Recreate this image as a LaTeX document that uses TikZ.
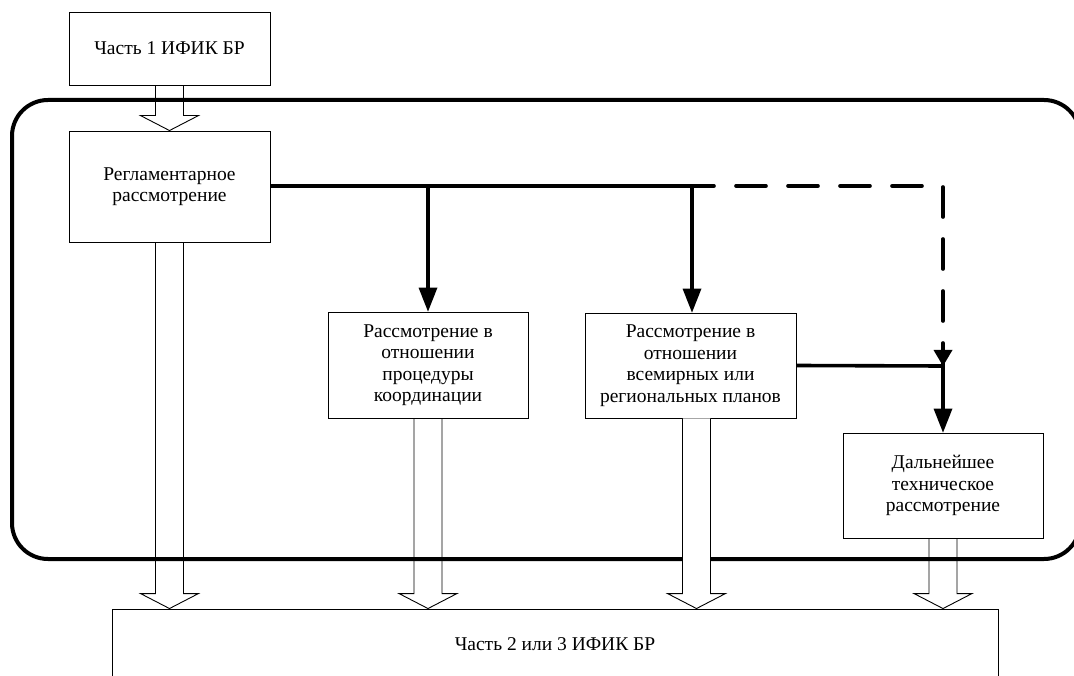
\documentclass[tikz,border=0pt]{standalone}
\usepackage{fontspec}
\setmainfont{Liberation Serif}
\usetikzlibrary{arrows.meta,calc}
\tikzset{
  box/.style={draw=black, line width=0.9pt, fill=white, align=center, inner sep=0pt,
    font=\fontsize{19.5}{21.5}\selectfont},
  thick line/.style={line width=3.6pt},
  flowarrow/.style={thick line, -{Triangle[length=24pt,width=19pt,line width=0pt]}},
  shortarrow/.style={thick line, -{Triangle[length=16pt,width=19pt,line width=0pt]}},
  dashline/.style={thick line, line cap=round, dash pattern=on 30pt off 22pt, dash phase=8pt},
  hollow/.style={draw=black, line width=0.9pt, line join=miter},
  frame/.style={line width=4pt, rounded corners=36pt}
}
\newcommand{\harrow}[3][]{%
  \draw[hollow,#1] let \p1=(#2), \p2=(#3) in
    (\x1-14pt,\y1) -- (\x1-14pt,\y2+15pt) -- (\x1-29pt,\y2+15pt) -- (\x1,\y2)
    -- (\x1+29pt,\y2+15pt) -- (\x1+14pt,\y2+15pt) -- (\x1+14pt,\y1);}
\begin{document}
\begin{tikzpicture}[x=1pt,y=-1pt]
\useasboundingbox (0,0) rectangle (1074,676);
\clip (0,0) rectangle (1074,676);
% frame
\draw[frame] (12,100) rectangle (1080,559);
% boxes
\node[box, minimum width=201pt, minimum height=73pt] (A) at (169.5,48.5) {Часть 1 ИФИК БР};
\node[box, minimum width=201pt, minimum height=111pt] (B) at (169.5,186.5) {Регламентарное\\рассмотрение};
\node[box, minimum width=200pt, minimum height=106pt] (C) at (428,365) {Рассмотрение в\\отношении\\процедуры\\координации};
\node[box, minimum width=211pt, minimum height=105pt] (D) at (690.5,365.5) {Рассмотрение в\\отношении\\всемирных или\\региональных планов};
\node[box, minimum width=200pt, minimum height=105pt] (E) at (943,485.5) {Дальнейшее\\техническое\\рассмотрение};
\node[box, minimum width=886pt, minimum height=70pt] (F) at (555,644) {Часть 2 или 3 ИФИК БР};
% hollow arrows
\harrow{A.south}{A.south |- B.north}
\harrow{B.south}{B.south |- F.north}
\harrow{C.south}{C.south |- F.north}
\harrow[fill=white]{[xshift=6pt]D.south}{[xshift=6pt]D.south |- F.north}
\harrow{E.south}{E.south |- F.north}
% junctions
\coordinate (j1) at (428,186);
\coordinate (j2) at (692,186);
\coordinate (j3) at (943,186);
\coordinate (k) at (943,366);
\draw[thick line] (B.east |- j1) -- (j2);
\draw[flowarrow] (j1) -- (j1 |- C.north);
\draw[flowarrow] (j2) -- (j2 |- D.north);
\draw[dashline] (j2) -- (j3) -- (k);
\draw[shortarrow] ($(k)+(0,-16)$) -- (k);
\draw[thick line] (D.east) -- (k);
\draw[flowarrow] (k) -- (E.north);
\end{tikzpicture}
\end{document}
